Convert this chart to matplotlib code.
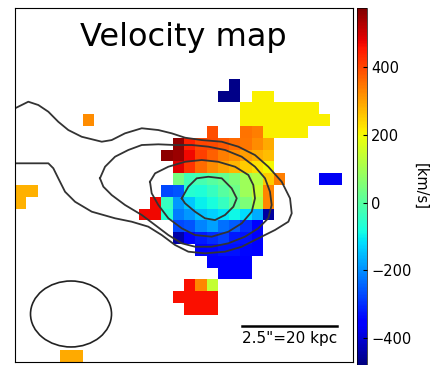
import numpy as np
import matplotlib
matplotlib.use('Agg')
import matplotlib.pyplot as plt
from matplotlib.patches import Ellipse

# velocity map pixels: (row, first column, values in km/s)
vel_segments = [
    (6, 19, [-470]),
    (7, 18, [-470, -470]), (7, 21, [210, 210]),
    (8, 20, [210, 210, 210, 210, 210, 210, 210]),
    (9, 6, [320]), (9, 20, [210, 210, 210, 210, 210, 210, 210, 210]),
    (10, 17, [390]), (10, 20, [350, 340, 210, 210, 210, 210]),
    (11, 14, [555, 440, 400, 395, 380, 360, 345, 320, 290]),
    (12, 13, [560, 550, 470, 410, 370, 340, 320, 300, 285, 270]),
    (13, 14, [485, 420, 360, 320, 295, 275, 250, 230, 200]),
    (14, 14, [40, -30, -20, 0, 20, 50, 90, 120, 250, 340]), (14, 27, [-370, -370]),
    (15, 0, [280, 280]), (15, 13, [-270, -260, -60, -70, -40, 0, 30, 90, 140, 330]),
    (16, 0, [280]), (16, 12, [470, -40, -190, -140, -100, -80, -40, 10, 50, 110, 330]),
    (17, 11, [470, 470, -60, -220, -190, -150, -130, -110, -90, -120, -170, -450]),
    (18, 14, [-270, -260, -210, -180, -230, -250, -300, -360]),
    (19, 14, [-440, -350, -320, -300, -280, -320, -330, -360]),
    (20, 16, [-350, -340, -330, -330, -340, -350]),
    (21, 17, [-360, -360, -360, -360]),
    (22, 18, [-360, -360, -360]),
    (23, 15, [460, 330, 140]),
    (24, 14, [460, 460, 460, 460]),
    (25, 15, [460, 460, 460]),
    (29, 4, [290, 290]),
]
nrow, ncol = 30, 30
vmin, vmax = -480, 575
cbar_ticks = [-400, -200, 0, 200, 400]

# continuum contours (x, y in map pixels)
cont_a_x = [0.00, 1.18, 2.07, 2.96, 3.84, 4.73, 5.92, 7.70, 8.58, 9.76, 11.25, 12.72, 13.91, 15.09,
            16.57, 18.35, 19.82, 21.30, 22.48, 23.67, 24.41, 24.56, 24.26, 23.08, 21.59, 20.12,
            18.64, 16.86, 15.38, 14.20, 13.02, 11.83, 10.36, 8.88, 6.81, 5.33, 4.44, 3.84, 3.40,
            2.96, 1.78, 0.00]
cont_a_y = [8.50, 7.94, 8.22, 8.79, 9.64, 10.34, 10.91, 11.33, 11.19, 10.62, 10.19, 10.34, 10.62,
            10.99, 11.19, 11.33, 11.75, 12.46, 13.45, 14.72, 16.13, 17.40, 18.11, 18.81, 19.52,
            20.23, 20.65, 20.79, 20.65, 20.08, 19.24, 18.53, 18.11, 17.82, 17.26, 16.42, 15.57,
            14.43, 13.58, 13.16, 13.16, 13.16]
cont_b_x = [7.54, 7.99, 8.88, 10.06, 11.25, 12.72, 14.20, 15.68, 17.16, 18.64, 20.12, 21.30, 22.19,
            22.63, 22.78, 22.48, 21.59, 20.41, 18.93, 17.46, 15.98, 14.80, 13.61, 12.43, 11.25,
            9.76, 8.58, 7.84, 7.54]
cont_b_y = [14.43, 13.45, 12.60, 12.03, 11.61, 11.55, 11.61, 11.61, 11.75, 12.03, 12.60, 13.45,
            14.43, 15.57, 16.69, 17.82, 18.67, 19.38, 19.94, 20.23, 20.23, 19.94, 19.24, 18.39,
            17.54, 16.69, 15.85, 15.14, 14.43]
cont_c_x = [11.98, 12.43, 13.61, 15.09, 16.57, 18.04, 19.53, 20.71, 21.15, 21.30, 21.01, 20.12,
            18.93, 17.46, 15.98, 14.80, 13.61, 12.72, 12.13, 11.98]
cont_c_y = [14.72, 14.01, 13.45, 13.03, 12.88, 13.03, 13.45, 14.15, 15.00, 16.13, 17.26, 18.25,
            18.96, 19.38, 19.24, 18.67, 17.82, 16.69, 15.70, 14.72]
cont_d_x = [14.80, 15.38, 16.13, 17.16, 18.35, 19.23, 19.68, 19.38, 18.64, 17.75, 16.86, 15.98,
            15.09, 14.80]
cont_d_y = [16.13, 15.14, 14.43, 14.30, 14.43, 15.28, 16.13, 16.84, 17.54, 17.97, 17.82, 17.26,
            16.55, 16.13]

# beam and scale bar
beam_xy = (4.97, 25.93)
beam_w, beam_h = 7.19, 5.59
bar_x = [20.14, 28.57]
bar_y = 26.95
bar_label = '2.5"=20 kpc'

vel = np.full((nrow, ncol), np.nan)
for r, c0, vals in vel_segments:
    vel[r, c0:c0 + len(vals)] = vals

fig = plt.figure(figsize=(4.34, 3.65), dpi=100)
ax = fig.add_axes([0.0346, 0.0082, 0.7788, 0.9698])
cax = fig.add_axes([0.8226, 0.0, 0.023, 0.978])

im = ax.imshow(vel, cmap='jet', vmin=vmin, vmax=vmax, extent=(0, ncol, nrow, 0),
               aspect='auto', interpolation='nearest')
for cx, cy in [(cont_a_x, cont_a_y), (cont_b_x, cont_b_y), (cont_c_x, cont_c_y), (cont_d_x, cont_d_y)]:
    ax.plot(cx, cy, color='#333333', lw=1.3)

ax.add_patch(Ellipse(beam_xy, beam_w, beam_h, fill=False, ec='#222222', lw=1.2))
ax.plot(bar_x, [bar_y, bar_y], color='black', lw=1.8)
ax.text(np.mean(bar_x), bar_y + 0.45, bar_label, ha='center', va='top', fontsize=11)
ax.text(ncol / 2 - 0.1, 2.5, 'Velocity map', ha='center', va='center', fontsize=23)

ax.set_xlim(0, ncol)
ax.set_ylim(nrow, 0)
ax.set_xticks([])
ax.set_yticks([])

cb = fig.colorbar(im, cax=cax, ticks=cbar_ticks)
cb.outline.set_linewidth(0.5)
cax.tick_params(direction='in', length=3, labelsize=10.5, pad=3)
cb.set_label('[km/s]', rotation=270, fontsize=10.5, labelpad=12)

fig.savefig('out.png', dpi=100)
